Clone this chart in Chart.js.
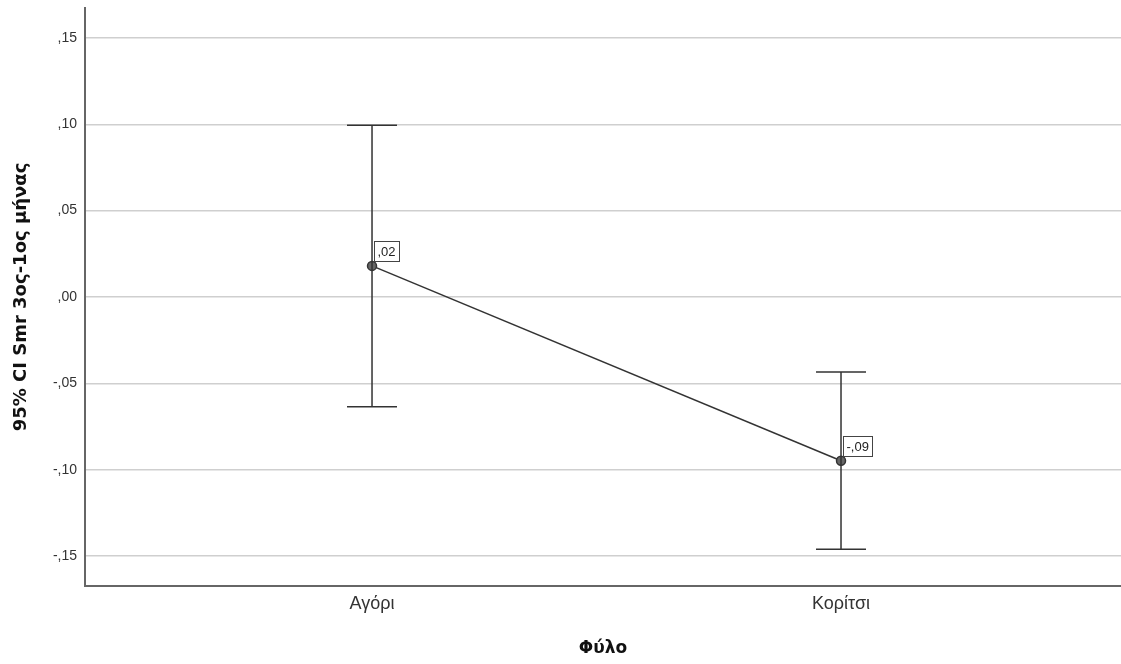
<!DOCTYPE html>
<html>
<head>
<meta charset="utf-8">
<script src="https://cdn.jsdelivr.net/npm/chart.js@4"></script>
<style>
html,body{margin:0;padding:0;background:#fff;}
#wrap{width:1121px;height:664px;position:relative;}
</style>
</head>
<body>
<div id="wrap"><canvas id="c" width="1121" height="664"></canvas></div>
<script>
const categories = ['Αγόρι', 'Κορίτσι'];
const means = [0.018, -0.0948];
const upper = [0.0994, -0.0434];
const lower = [-0.0636, -0.146];
const meanLabels = [',02', '-,09'];
const yTickValues = [-0.15, -0.10, -0.05, 0.00, 0.05, 0.10, 0.15];
const yTickLabels = ['-,15', '-,10', '-,05', ',00', ',05', ',10', ',15'];
const yTitle = '95% CI Smr 3ος-1ος μήνας';
const xTitle = 'Φύλο';

const FONT = "'Liberation Sans', Arial, sans-serif";
const BOLD_FONT = "'DejaVu Sans', Verdana, sans-serif";

const errorBars = {
  id: 'errorBars',
  afterDatasetsDraw(chart) {
    const ctx = chart.ctx, xs = chart.scales.x, ys = chart.scales.y;
    ctx.save();
    ctx.strokeStyle = '#333';
    ctx.lineWidth = 1.5;
    for (let i = 0; i < categories.length; i++) {
      const x = xs.getPixelForValue(i);
      const yu = ys.getPixelForValue(upper[i]);
      const yl = ys.getPixelForValue(lower[i]);
      ctx.beginPath();
      ctx.moveTo(x, yu); ctx.lineTo(x, yl);
      ctx.moveTo(x - 25, yu); ctx.lineTo(x + 25, yu);
      ctx.moveTo(x - 25, yl); ctx.lineTo(x + 25, yl);
      ctx.stroke();
    }
    ctx.font = '13px ' + FONT;
    ctx.textBaseline = 'middle';
    ctx.textAlign = 'left';
    for (let i = 0; i < categories.length; i++) {
      const x = xs.getPixelForValue(i);
      const y = ys.getPixelForValue(means[i]);
      const w = Math.round(ctx.measureText(meanLabels[i]).width + 7);
      const h = 20;
      const bx = Math.round(x + 2) + 0.5, by = Math.round(y - 5 - h) + 0.5;
      ctx.fillStyle = '#fff';
      ctx.fillRect(bx, by, w, h);
      ctx.strokeStyle = '#444';
      ctx.lineWidth = 1;
      ctx.strokeRect(bx, by, w, h);
      ctx.fillStyle = '#222';
      ctx.fillText(meanLabels[i], bx + 3, by + h / 2 + 1);
    }
    ctx.restore();
  }
};

new Chart(document.getElementById('c'), {
  type: 'line',
  data: {
    datasets: [{
      data: means.map((v, i) => ({x: i, y: v})),
      borderColor: '#333',
      borderWidth: 1.5,
      pointRadius: 4.5,
      pointBackgroundColor: '#666',
      pointBorderColor: '#333',
      pointBorderWidth: 1.5,
      tension: 0,
      clip: false
    }]
  },
  plugins: [errorBars],
  options: {
    responsive: false,
    animation: false,
    layout: {autoPadding: false, padding: {top: 8, right: 0, left: 0, bottom: 0}},
    plugins: {legend: {display: false}, tooltip: {enabled: false}},
    scales: {
      x: {
        type: 'linear',
        min: -0.612,
        max: 1.597,
        afterBuildTicks(s) { s.ticks = categories.map((c, i) => ({value: i})); },
        afterFit(s) { s.height = 78; s.paddingLeft = 0; s.paddingRight = 0; },
        ticks: {
          callback: (v) => categories[v],
          color: '#333',
          font: {family: FONT, size: 18},
          padding: 7,
          maxRotation: 0,
          autoSkip: false
        },
        grid: {display: false, drawTicks: false},
        border: {display: true, color: '#666', width: 2},
        title: {
          display: true,
          text: xTitle,
          color: '#111',
          font: {family: BOLD_FONT, size: 17, weight: 'bold'},
          padding: {top: 0, bottom: 5}
        }
      },
      y: {
        type: 'linear',
        min: -0.1673,
        max: 0.1673,
        afterBuildTicks(s) { s.ticks = yTickValues.map(v => ({value: v})); },
        afterFit(s) { s.width = 85; s.paddingTop = 0; s.paddingBottom = 0; },
        ticks: {
          callback: (v) => {
            const idx = yTickValues.findIndex(t => Math.abs(t - v) < 1e-9);
            return idx >= 0 ? yTickLabels[idx] : '';
          },
          color: '#333',
          font: {family: FONT, size: 14},
          padding: 8
        },
        grid: {color: '#cfcfcf', lineWidth: 1.5, drawTicks: false},
        border: {display: true, color: '#666', width: 2},
        title: {
          display: true,
          text: yTitle,
          color: '#111',
          font: {family: BOLD_FONT, size: 18, weight: 'bold'},
          padding: {top: 11, bottom: 0}
        }
      }
    }
  }
});
</script>
</body>
</html>
